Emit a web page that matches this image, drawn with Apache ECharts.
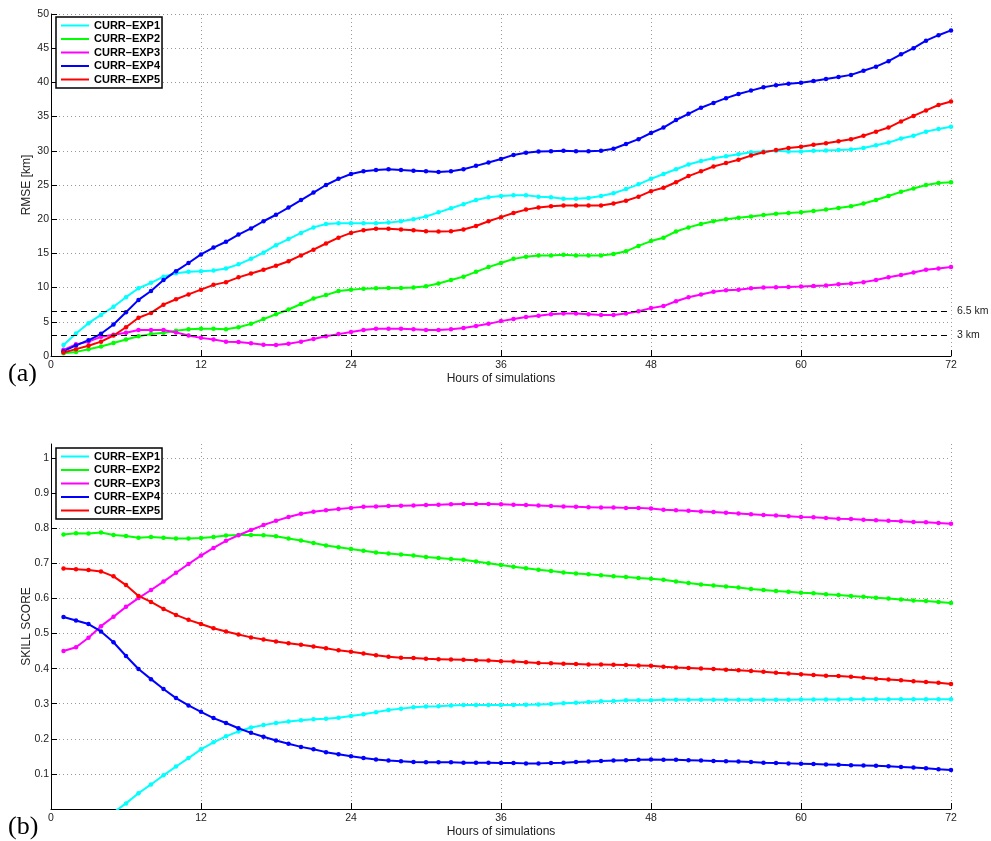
<!DOCTYPE html>
<html>
<head>
<meta charset="utf-8">
<script src="https://cdn.jsdelivr.net/npm/echarts@6/dist/echarts.min.js"></script>
<style>
html,body{margin:0;padding:0;background:#fff;}
#chart{width:991px;height:841px;}
</style>
</head>
<body>
<div id="chart"></div>
<script>
var names = ['CURR–EXP1', 'CURR–EXP2', 'CURR–EXP3', 'CURR–EXP4', 'CURR–EXP5'];
var colors = ['#00ffff', '#00ff00', '#ff00ff', '#0000ff', '#ff0000'];
var xTicks = [0, 12, 24, 36, 48, 60, 72];

var hours = [1,2,3,4,5,6,7,8,9,10,11,12,13,14,15,16,17,18,19,20,21,22,23,24,
	25,26,27,28,29,30,31,32,33,34,35,36,37,38,39,40,41,42,43,44,45,46,47,48,
	49,50,51,52,53,54,55,56,57,58,59,60,61,62,63,64,65,66,67,68,69,70,71,72];

// (a) RMSE [km]
var rmse1 = [1.6,3.3,4.8,6.0,7.2,8.6,9.9,10.7,11.6,12.1,12.3,12.4,12.5,12.8,13.4,14.2,15.1,16.2,17.1,18.0,18.8,19.3,
	19.4,19.4,19.4,19.4,19.5,19.7,20.0,20.4,21.0,21.6,22.2,22.8,23.2,23.4,23.5,23.5,23.3,23.2,23.0,23.0,23.1,23.4,23.8,24.4,25.1,25.9,
	26.6,27.3,28.0,28.5,28.9,29.2,29.5,29.8,29.9,30.0,29.9,29.9,30.0,30.05,30.1,30.2,30.4,30.8,31.2,31.8,32.2,32.8,33.2,33.5];
var rmse2 = [0.4,0.6,1.0,1.4,1.9,2.4,2.9,3.2,3.4,3.7,3.9,4.0,4.0,3.9,4.2,4.7,5.4,6.1,6.8,7.6,8.4,8.9,9.5,9.7,
	9.85,9.9,9.95,9.95,10.0,10.2,10.6,11.1,11.6,12.3,13.0,13.6,14.2,14.5,14.7,14.7,14.8,14.7,14.7,14.7,14.9,15.3,16.1,16.8,
	17.3,18.2,18.8,19.3,19.7,20.0,20.2,20.4,20.6,20.8,20.9,21.0,21.2,21.4,21.65,21.9,22.3,22.8,23.4,24.0,24.5,25.0,25.3,25.4];
var rmse3 = [0.9,1.7,2.1,2.8,3.1,3.4,3.8,3.8,3.8,3.45,3.0,2.65,2.4,2.1,2.05,1.85,1.65,1.6,1.8,2.1,2.5,2.9,3.2,3.5,
	3.8,4.0,4.0,4.0,3.9,3.8,3.8,3.9,4.1,4.4,4.7,5.1,5.4,5.7,5.9,6.1,6.2,6.2,6.1,6.0,6.0,6.2,6.55,7.0,
	7.3,8.0,8.6,9.0,9.4,9.6,9.7,9.9,10.0,10.05,10.1,10.15,10.25,10.3,10.5,10.6,10.8,11.1,11.5,11.85,12.2,12.6,12.8,13.0];
var rmse4 = [0.7,1.55,2.3,3.25,4.6,6.4,8.2,9.5,11.1,12.4,13.6,14.85,15.85,16.7,17.75,18.65,19.7,20.65,21.7,22.8,23.9,25.0,25.9,26.6,
	27.0,27.2,27.3,27.2,27.1,27.0,26.9,27.0,27.3,27.8,28.3,28.8,29.4,29.7,29.9,29.95,30.0,29.95,29.95,30.0,30.3,31.0,31.7,32.6,
	33.4,34.5,35.4,36.3,37.0,37.7,38.3,38.8,39.3,39.6,39.8,39.95,40.2,40.5,40.8,41.1,41.7,42.3,43.1,44.1,45.0,46.1,46.9,47.6];
var rmse5 = [0.5,1.0,1.5,2.1,3.0,4.2,5.6,6.3,7.5,8.3,9.0,9.7,10.4,10.8,11.5,12.05,12.6,13.2,13.85,14.7,15.55,16.45,17.3,18.0,
	18.4,18.6,18.6,18.5,18.4,18.25,18.2,18.25,18.5,19.0,19.7,20.3,20.9,21.4,21.7,21.9,22.0,22.0,22.0,22.0,22.3,22.7,23.3,24.1,
	24.6,25.4,26.3,27.0,27.7,28.2,28.7,29.3,29.8,30.1,30.4,30.6,30.9,31.1,31.4,31.7,32.2,32.8,33.4,34.3,35.1,35.9,36.7,37.2];
var refLines = [6.5, 3];
var refLabels = ['6.5 km', '3 km'];

// (b) SKILL SCORE
var skill1 = [-0.13,-0.1,-0.07,-0.04,-0.01,0.016,0.045,0.07,0.096,0.121,0.145,0.17,0.19,0.207,0.221,0.232,0.239,0.245,0.249,0.253,0.256,0.257,
	0.26,0.265,0.27,0.276,0.282,0.286,0.29,0.292,0.293,0.295,0.296,0.296,0.296,0.296,0.296,0.297,0.298,0.299,0.301,0.303,0.305,0.307,0.308,0.31,0.31,0.31,
	0.311,0.311,0.311,0.311,0.311,0.311,0.311,0.311,0.311,0.311,0.311,0.312,0.312,0.312,0.312,0.313,0.313,0.313,0.313,0.313,0.313,0.313,0.313,0.313];
var skill2 = [0.782,0.786,0.785,0.788,0.781,0.778,0.773,0.775,0.773,0.771,0.771,0.772,0.775,0.779,0.781,0.781,0.78,0.777,0.771,0.765,0.758,0.751,0.746,0.741,
	0.736,0.731,0.728,0.725,0.722,0.718,0.715,0.712,0.71,0.705,0.7,0.695,0.69,0.686,0.682,0.678,0.674,0.671,0.669,0.666,0.663,0.661,0.658,0.656,
	0.653,0.648,0.644,0.64,0.637,0.634,0.631,0.627,0.624,0.621,0.619,0.616,0.615,0.612,0.61,0.607,0.605,0.602,0.6,0.597,0.594,0.593,0.59,0.587];
var skill3 = [0.45,0.461,0.488,0.521,0.548,0.576,0.601,0.624,0.648,0.673,0.698,0.722,0.744,0.764,0.78,0.795,0.809,0.821,0.832,0.841,0.847,0.851,0.855,0.858,
	0.861,0.862,0.863,0.864,0.865,0.866,0.867,0.868,0.869,0.869,0.869,0.868,0.867,0.866,0.865,0.863,0.862,0.861,0.86,0.859,0.859,0.858,0.858,0.856,
	0.853,0.851,0.85,0.848,0.846,0.844,0.842,0.84,0.838,0.836,0.834,0.832,0.831,0.829,0.827,0.826,0.824,0.823,0.821,0.82,0.818,0.817,0.815,0.813];
var skill4 = [0.547,0.537,0.527,0.506,0.475,0.436,0.399,0.37,0.342,0.316,0.295,0.277,0.259,0.245,0.23,0.217,0.206,0.195,0.186,0.177,0.17,0.162,0.156,0.15,
	0.145,0.141,0.138,0.136,0.134,0.133,0.133,0.133,0.132,0.132,0.132,0.131,0.131,0.13,0.13,0.131,0.132,0.134,0.135,0.137,0.138,0.139,0.14,0.141,
	0.14,0.14,0.139,0.138,0.137,0.136,0.135,0.134,0.132,0.131,0.13,0.129,0.128,0.127,0.126,0.125,0.124,0.123,0.122,0.12,0.118,0.116,0.113,0.111];
var skill5 = [0.685,0.683,0.681,0.677,0.663,0.638,0.607,0.59,0.57,0.553,0.539,0.527,0.515,0.506,0.497,0.489,0.483,0.477,0.472,0.468,0.463,0.458,0.452,0.448,
	0.443,0.438,0.434,0.431,0.43,0.428,0.427,0.426,0.425,0.424,0.423,0.421,0.42,0.418,0.416,0.415,0.414,0.413,0.412,0.412,0.411,0.41,0.409,0.408,
	0.405,0.403,0.402,0.4,0.399,0.397,0.395,0.393,0.391,0.388,0.386,0.384,0.382,0.38,0.379,0.377,0.374,0.371,0.369,0.367,0.364,0.362,0.36,0.356];

var font = 'Liberation Sans, Arial, Helvetica, sans-serif';
var myChart = echarts.init(document.getElementById('chart'));

function pairs(ys){
	var out = [];
	for(var i = 0;i<hours.length;i++){
		out.push([hours[i], ys[i]]);
	}
	return out;
}

function xAxisOpt(idx){
	return {
		type : 'value',
		gridIndex : idx,
		min : xTicks[0],
		max : xTicks[xTicks.length-1],
		interval : 12,
		name : 'Hours of simulations',
		nameLocation : 'middle',
		nameGap : 17,
		nameMoveOverlap : false,
		nameTextStyle : {fontFamily : font, fontSize : 12, color : '#222'},
		axisLine : {lineStyle : {color : '#000', width : 1}},
		axisTick : {inside : true, length : 6, lineStyle : {color : '#000'}},
		axisLabel : {fontFamily : font, fontSize : 10.5, color : '#222', margin : 4},
		splitLine : {show : true, lineStyle : {color : '#999', type : [1,3], width : 1}}
	};
}

function yAxisOpt(idx, min, max, interval, name, fmt){
	return {
		type : 'value',
		gridIndex : idx,
		min : min,
		max : max,
		interval : interval,
		name : name,
		nameLocation : 'middle',
		nameGap : 18,
		nameMoveOverlap : false,
		nameTextStyle : {fontFamily : font, fontSize : 12, color : '#222'},
		axisLine : {show : true, lineStyle : {color : '#000', width : 1}},
		axisTick : {show : true, inside : true, length : 6, lineStyle : {color : '#000'}},
		axisLabel : {fontFamily : font, fontSize : 10.5, color : '#222', margin : 2, formatter : fmt,
			showMinLabel : idx === 0, showMaxLabel : idx === 0},
		splitLine : {show : true, showMinLine : false, showMaxLine : idx === 0,
			lineStyle : {color : '#999', type : [1,3], width : 1}}
	};
}

function legendOpt(top){
	return {
		data : names,
		orient : 'vertical',
		left : 56,
		top : top,
		icon : 'rect',
		itemWidth : 28,
		itemHeight : 2,
		itemGap : 2.5,
		padding : [3,2,3,5],
		borderColor : '#000',
		borderWidth : 1.5,
		backgroundColor : '#fff',
		selectedMode : false,
		textStyle : {fontFamily : font, fontSize : 11, fontWeight : 'bold', color : '#000', lineHeight : 11}
	};
}

var rmse = [rmse1, rmse2, rmse3, rmse4, rmse5];
var skill = [skill1, skill2, skill3, skill4, skill5];
var series = [];
for(var k = 0;k<5;k++){
	series.push({
		name : names[k], type : 'line', xAxisIndex : 0, yAxisIndex : 0,
		symbol : 'circle', symbolSize : 4.5, showSymbol : true,
		lineStyle : {color : colors[k], width : 2},
		itemStyle : {color : colors[k]},
		data : pairs(rmse[k])
	});
}
// dashed reference lines of panel (a)
series[0].markLine = {
	silent : true,
	symbol : 'none',
	lineStyle : {color : '#000', type : [6,4], width : 1},
	label : {position : 'end', distance : 6, fontFamily : font, fontSize : 10.5, color : '#222'},
	data : [
		{yAxis : refLines[0], label : {formatter : refLabels[0]}},
		{yAxis : refLines[1], label : {formatter : refLabels[1]}}
	]
};
for(var k = 0;k<5;k++){
	series.push({
		name : names[k], type : 'line', xAxisIndex : 1, yAxisIndex : 1,
		symbol : 'circle', symbolSize : 4.5, showSymbol : true,
		lineStyle : {color : colors[k], width : 2},
		itemStyle : {color : colors[k]},
		data : pairs(skill[k])
	});
}

var option = {
	backgroundColor : '#fff',
	animation : false,
	grid : [
		{left : 51, right : 40, top : 14, height : 342},
		{left : 51, right : 40, top : 444, height : 365}
	],
	legend : [legendOpt(17), legendOpt(448)],
	xAxis : [xAxisOpt(0), xAxisOpt(1)],
	yAxis : [
		yAxisOpt(0, 0, 50, 5, 'RMSE [km]', function(v){ return v; }),
		yAxisOpt(1, 0, 1.04, 0.1, 'SKILL SCORE', function(v){ return Math.abs(v*10 - Math.round(v*10)) < 1e-6 ? (Math.round(v*10)/10).toString() : ''; })
	],
	graphic : [
		{type : 'text', left : 8, top : 361, style : {text : '(a)', font : '26px "Liberation Serif", "Times New Roman", serif', fill : '#000'}},
		{type : 'text', left : 8, top : 814, style : {text : '(b)', font : '26px "Liberation Serif", "Times New Roman", serif', fill : '#000'}}
	],
	series : series
};
myChart.setOption(option);
</script>
</body>
</html>
